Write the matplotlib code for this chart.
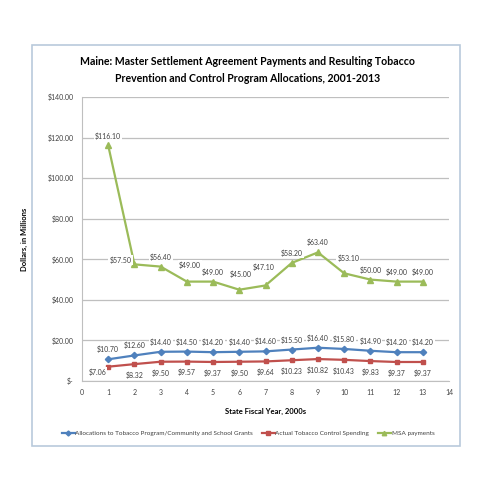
import numpy as np
import matplotlib
matplotlib.use('Agg')
import matplotlib.pyplot as plt
from matplotlib.patches import Rectangle

plt.rcParams['font.family'] = ['Lato', 'DejaVu Sans']

years = [1, 2, 3, 4, 5, 6, 7, 8, 9, 10, 11, 12, 13]
alloc = [10.70, 12.60, 14.40, 14.50, 14.20, 14.40, 14.60, 15.50, 16.40, 15.80, 14.90, 14.20, 14.20]
spend = [7.06, 8.32, 9.50, 9.57, 9.37, 9.50, 9.64, 10.23, 10.82, 10.43, 9.83, 9.37, 9.37]
msa = [116.10, 57.50, 56.40, 49.00, 49.00, 45.00, 47.10, 58.20, 63.40, 53.10, 50.00, 49.00, 49.00]

names = ['Allocations to Tobacco Program/Community and School Grants',
         'Actual Tobacco Control Spending',
         'MSA payments']
y_ticks = [0, 20, 40, 60, 80, 100, 120, 140]
y_labels = ['$-', '$20.00', '$40.00', '$60.00', '$80.00', '$100.00', '$120.00', '$140.00']

# label offsets (points) for the MSA labels, they are not all in the same spot
msa_off = [(0, 7), (-10, 3), (0, 7), (2, 12), (0, 7), (1, 11), (-1, 13),
           (0, 7), (0, 7), (3, 11), (0, 7), (0, 7), (0, 7)]
spend_off = [(-8, -4)] + [(0, -8)] * 12

fig = plt.figure(figsize=(4.95, 4.95), dpi=100)
fig.patches.append(Rectangle((32 / 495, 1 - 446 / 495), 428 / 495, 401 / 495,
                             transform=fig.transFigure, fill=False,
                             edgecolor='#B9CADB', linewidth=1.2))

ax = fig.add_axes([82 / 495, 1 - 381 / 495, 367 / 495, 284 / 495])

lbl_font = dict(fontsize=5, color='#404040')
box = dict(boxstyle='square,pad=0.15', fc='white', ec='none')

ax.plot(years, alloc, color='#4F81BD', marker='D', markersize=3.2, linewidth=1.6, label=names[0], zorder=3)
ax.plot(years, spend, color='#C0504D', marker='s', markersize=3.5, linewidth=1.6, label=names[1], zorder=3)
ax.plot(years, msa, color='#9BBB59', marker='^', markersize=4, linewidth=1.6, label=names[2], zorder=3)

for i, x in enumerate(years):
    ax.annotate('$%.2f' % alloc[i], (x, alloc[i]), xytext=(0, 7), textcoords='offset points',
                ha='center', va='center', bbox=box, **lbl_font)
    ax.annotate('$%.2f' % spend[i], (x, spend[i]), xytext=spend_off[i], textcoords='offset points',
                ha='center', va='center', bbox=box, **lbl_font)
    ax.annotate('$%.2f' % msa[i], (x, msa[i]), xytext=msa_off[i], textcoords='offset points',
                ha='center', va='center', bbox=box, **lbl_font)

ax.set_xlim(0, 14)
ax.set_ylim(0, 140)
ax.set_xticks(range(0, 15))
ax.set_yticks(y_ticks)
ax.set_yticklabels(y_labels)
ax.tick_params(axis='both', length=0, labelsize=5, colors='#404040', pad=6)
ax.yaxis.grid(True, color='#BFBFBF', linewidth=0.9)
ax.set_axisbelow(True)
for s in ['top', 'right']:
    ax.spines[s].set_visible(False)
ax.spines['left'].set_color('#BFBFBF')
ax.spines['bottom'].set_color('#BFBFBF')

ax.set_xlabel('State Fiscal Year, 2000s', fontsize=5.5, fontweight='bold', labelpad=8)
ax.set_ylabel('Dollars, in Millions', fontsize=5.5, fontweight='bold', labelpad=14)

fig.text(0.5, 1 - 70 / 495,
         'Maine: Master Settlement Agreement Payments and Resulting Tobacco\n'
         'Prevention and Control Program Allocations, 2001-2013',
         ha='center', va='center', fontsize=7.6, fontweight='bold', linespacing=1.6)

fig.legend(loc='center', bbox_to_anchor=(248 / 495, 1 - 433 / 495), ncol=3, frameon=False,
           fontsize=4.6, handlelength=2.0, columnspacing=1.4, handletextpad=0.1,
           markerscale=0.8, labelcolor='#404040')

fig.savefig('out.png', dpi=100)
